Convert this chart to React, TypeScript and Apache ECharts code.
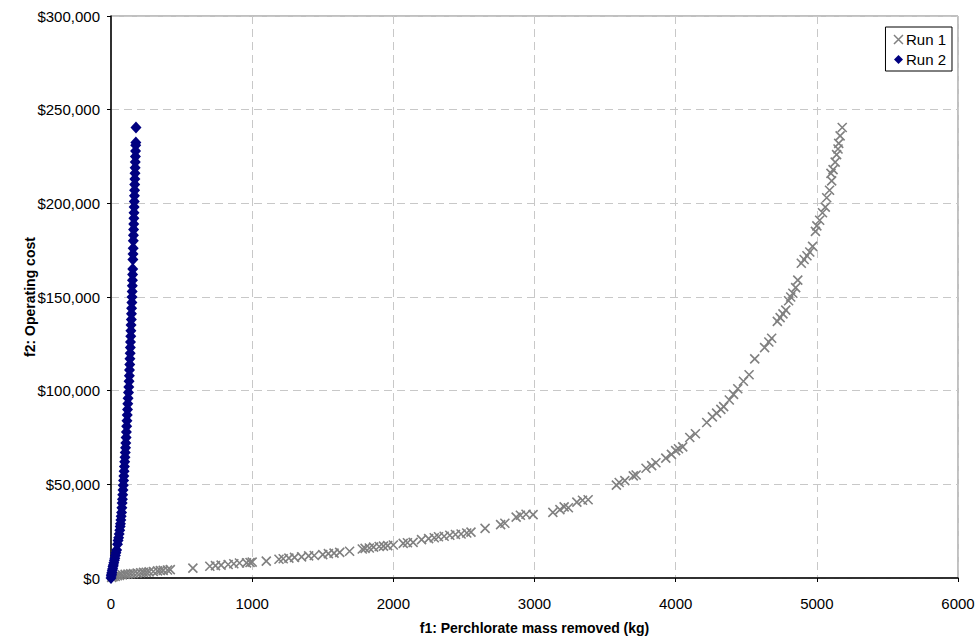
import React, { useEffect, useRef } from "react";
import * as echarts from "echarts";

const xTicks = [0, 1000, 2000, 3000, 4000, 5000, 6000];
const yTicks = [0, 50000, 100000, 150000, 200000, 250000, 300000];

const run1: [number, number][] = [
  [5, 300], [15, 700], [30, 900], [45, 1200], [60, 1400], [80, 1700], [100, 1900], [120, 2100],
  [140, 2300], [160, 2400], [185, 2600], [210, 2800], [230, 3000], [250, 3100], [270, 3300],
  [300, 3500], [330, 3800], [350, 4000], [370, 4100], [400, 4300], [420, 4500],
  [580, 5300], [700, 6300], [740, 6600], [780, 6900], [830, 7200], [870, 7600], [910, 8000],
  [960, 8100], [985, 8300], [1000, 8500], [1100, 9000], [1190, 10000], [1220, 10300],
  [1260, 10600], [1300, 11000], [1350, 11300], [1400, 11800], [1440, 12000], [1500, 12500],
  [1540, 13000], [1580, 13300], [1620, 13700], [1690, 14300], [1780, 15500], [1800, 15800],
  [1830, 16000], [1860, 16500], [1900, 16800], [1930, 17000], [1960, 17300], [2000, 17600],
  [2070, 18500], [2100, 18800], [2140, 19000], [2200, 20500], [2250, 21000], [2290, 21500],
  [2320, 22000], [2360, 22300], [2400, 22800], [2440, 23200], [2480, 23500], [2520, 24000],
  [2550, 24500], [2650, 26500], [2760, 28500], [2790, 29200], [2870, 32500], [2900, 33500],
  [2940, 34000], [2990, 33800], [3130, 35000], [3180, 36500], [3210, 38000], [3240, 37500],
  [3300, 40500], [3340, 41500], [3380, 41800],
  [3580, 49600], [3600, 51000], [3640, 52000], [3700, 54500], [3720, 55000], [3790, 58600],
  [3830, 60000], [3860, 61500], [3930, 64000], [3970, 66000], [4000, 68000], [4020, 69000],
  [4050, 70000], [4100, 75000], [4140, 77000], [4220, 83000], [4260, 86000], [4290, 88000],
  [4320, 90000], [4340, 91500], [4380, 95000], [4410, 98000], [4440, 101000], [4480, 105000],
  [4520, 108500], [4560, 117000], [4630, 123000], [4660, 126000], [4680, 128000],
  [4720, 137000], [4740, 139000], [4760, 141000], [4780, 143000], [4800, 148000],
  [4815, 150000], [4830, 152000], [4850, 155000], [4865, 159000], [4890, 168000],
  [4910, 170000], [4930, 172000], [4950, 174000], [4970, 177000], [4990, 185000],
  [5000, 188000], [5020, 191000], [5040, 195000], [5060, 198000], [5070, 203000],
  [5090, 207000], [5105, 212000], [5100, 216000], [5115, 218000], [5130, 222000],
  [5140, 226000], [5150, 229000], [5155, 232000], [5165, 236000], [5180, 240500],
];

const run2: [number, number][] = [
  [0, 0], [2, 1200], [4, 2000], [6, 3000], [9, 4200], [12, 5000], [14, 6200], [17, 7000],
  [20, 8200], [24, 9500], [27, 10500], [31, 12000], [35, 13500], [40, 15000], [46, 18000],
  [50, 20000], [54, 21500], [58, 23500], [62, 25500], [65, 27500], [67, 29000], [70, 31000],
  [72, 33000], [75, 35000], [77, 37500], [79, 40000], [81, 42000], [83, 44500], [85, 47000],
  [87, 49500], [89, 52000], [91, 54500], [93, 57000], [95, 59500], [97, 62000], [99, 64500],
  [101, 67000], [103, 69500], [105, 72000], [107, 75000], [109, 78000], [111, 81000],
  [113, 84000], [115, 87000], [117, 90000], [119, 93000], [121, 96000], [124, 99000],
  [126, 102000], [128, 105000], [130, 108000], [131, 111000], [133, 114000], [134, 117000],
  [136, 120000], [137, 123000], [138, 126000], [140, 129000], [141, 132000], [142, 135000],
  [144, 138000], [145, 141000], [146, 144000], [148, 147000], [149, 150000], [150, 153000],
  [151, 156000], [152, 159000], [153, 162000], [154, 165000], [155, 170000], [156, 173000],
  [157, 176000], [158, 180000], [159, 183000], [160, 186000], [161, 189000], [162, 192000],
  [163, 195000], [164, 198000], [165, 201000], [166, 204000], [167, 207000], [168, 210000],
  [169, 213000], [170, 216000], [171, 219000], [172, 222000], [173, 225000], [174, 228000],
  [175, 231000], [176, 232500], [177, 240500],
];

const FONT = "'Liberation Sans', Arial, sans-serif";
const X_ICON = "path://M0,0L10,10M0,10L10,0";

export default function App() {
  const ref = useRef<HTMLDivElement>(null);
  useEffect(() => {
    if (!ref.current) return;
    const chart = echarts.init(ref.current, null, { renderer: "svg" });
    chart.setOption({
      animation: false,
      backgroundColor: "#ffffff",
      textStyle: { fontFamily: FONT },
      grid: {
        left: 111,
        right: 21,
        top: 16,
        bottom: 59,
        outerBoundsMode: "none",
        containLabel: false,
        show: true,
        borderColor: "#808080",
        borderWidth: 1,
        backgroundColor: "transparent",
      },
      legend: {
        orient: "vertical",
        right: 27,
        top: 27,
        backgroundColor: "#ffffff",
        borderColor: "#000000",
        borderWidth: 1,
        borderRadius: 0,
        padding: [5, 6, 4, 6],
        itemGap: 5,
        itemWidth: 9,
        itemHeight: 9,
        textStyle: { fontFamily: FONT, fontSize: 15, color: "#000", padding: [0, 0, 0, -2] },
        data: [
          { name: "Run 1", icon: X_ICON, itemStyle: { color: "none", borderColor: "#808080", borderWidth: 1.5 } },
          { name: "Run 2", icon: "diamond", itemStyle: { color: "#000080" } },
        ],
      },
      xAxis: {
        type: "value",
        min: 0,
        max: 6000,
        interval: 1000,
        name: "f1: Perchlorate mass removed (kg)",
        nameLocation: "middle",
        nameGap: 43,
        nameMoveOverlap: false,
        nameTextStyle: { fontFamily: FONT, fontSize: 14, fontWeight: "bold", color: "#000" },
        axisLine: { show: true, onZero: false, lineStyle: { color: "#000", width: 1.5 } },
        axisTick: { show: true, length: 4, lineStyle: { color: "#000" } },
        axisLabel: {
          fontFamily: FONT,
          fontSize: 15,
          color: "#000",
          margin: 18,
          formatter: (v: number) => (xTicks.includes(v) ? String(v) : ""),
        },
        splitLine: { show: true, lineStyle: { color: "#c8c8c8", type: [8, 5], width: 1 } },
      },
      yAxis: {
        type: "value",
        min: 0,
        max: 300000,
        interval: 50000,
        name: "f2: Operating cost",
        nameLocation: "middle",
        nameGap: 74,
        nameMoveOverlap: false,
        nameRotate: 90,
        nameTextStyle: { fontFamily: FONT, fontSize: 14, fontWeight: "bold", color: "#000" },
        axisLine: { show: true, onZero: false, lineStyle: { color: "#000", width: 1.5 } },
        axisTick: { show: true, length: 4, lineStyle: { color: "#000" } },
        axisLabel: {
          fontFamily: FONT,
          fontSize: 15,
          color: "#000",
          margin: 11,
          formatter: (v: number) => (yTicks.includes(v) ? "$" + v.toLocaleString("en-US") : ""),
        },
        splitLine: { show: true, lineStyle: { color: "#c8c8c8", type: [8, 5], width: 1 } },
      },
      series: [
        {
          name: "Run 1",
          type: "scatter",
          data: run1,
          symbol: X_ICON,
          symbolSize: 9,
          itemStyle: { color: "none", borderColor: "#808080", borderWidth: 1.6, opacity: 1 },
        },
        {
          name: "Run 2",
          type: "scatter",
          data: run2,
          symbol: "diamond",
          symbolSize: [11, 12],
          itemStyle: { color: "#000080", opacity: 1 },
        },
      ],
    });
    return () => chart.dispose();
  }, []);
  return (
    <div
      ref={ref}
      style={{ position: "fixed", left: 0, top: 0, width: 979, height: 637, background: "#fff" }}
    />
  );
}
